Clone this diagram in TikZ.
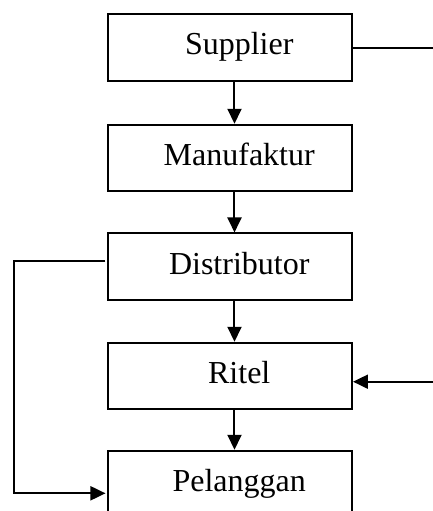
\documentclass[tikz,border=0pt]{standalone}
\usepackage{fontspec}
\setmainfont{Liberation Serif}
\usetikzlibrary{arrows.meta}
\begin{document}
\begin{tikzpicture}[x=0.5pt,y=-0.5pt,
  stagebox/.style={draw,line width=1pt,minimum width=121.75pt,minimum height=33.25pt,
    inner sep=0pt,text height=11pt,text depth=3.5pt,font=\fontsize{16}{19}\selectfont},
  conn/.style={line width=1pt},
  arr/.style={conn,-{Triangle[length=7.5pt,width=7pt]}}]
\useasboundingbox (0,0) rectangle (433,511);
\clip (0,0) rectangle (433,511);
\node[stagebox] (sup) at (230.25,47.3) {\hspace{9pt}Supplier};
\node[stagebox] (man) at (230.25,158) {\hspace{9pt}Manufaktur};
\node[stagebox] (dis) at (230.25,266.7) {\hspace{9pt}Distributor};
\node[stagebox] (rit) at (230.25,376) {\hspace{9pt}Ritel};
\node[stagebox] (pel) at (230.25,484) {\hspace{9pt}Pelanggan};
\coordinate (ax) at (234.5,0);
\coordinate (sout) at (433,47.7);
\coordinate (rin) at (433,381.7);
\coordinate (lt) at (14,260.7);
\coordinate (lb) at (14,493.3);
\draw[arr] (sup.south -| ax) -- (man.north -| ax);
\draw[arr] (man.south -| ax) -- (dis.north -| ax);
\draw[arr] (dis.south -| ax) -- (rit.north -| ax);
\draw[arr] (rit.south -| ax) -- (pel.north -| ax);
\draw[conn] (sup.east |- sout) -- (sout);
\draw[arr] (rin) -- (rin -| rit.east);
\draw[arr] ([xshift=-1pt]dis.west |- lt) -- (lt) -- (lb) -- ([xshift=-1pt]pel.west |- lb);
\end{tikzpicture}
\end{document}
